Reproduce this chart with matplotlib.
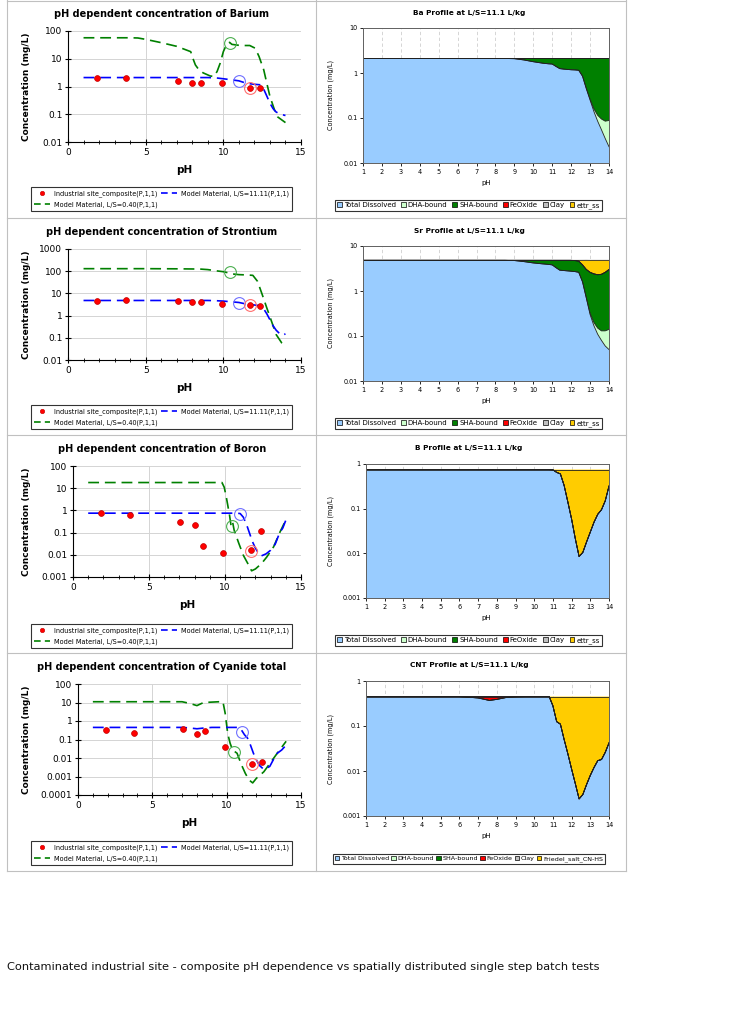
import matplotlib
matplotlib.use('Agg')
import matplotlib.pyplot as plt
from matplotlib.patches import Patch
from matplotlib.lines import Line2D
from matplotlib.ticker import FixedLocator, FuncFormatter, MultipleLocator, NullLocator

# measured single step batch tests (same pH for every element)
site_ph = [1.85, 3.75, 7.05, 8.0, 8.55, 9.9, 11.7, 12.35]
ba_site = [2.0, 2.1, 1.6, 1.35, 1.3, 1.3, 0.9, 0.85]
sr_site = [4.7, 5.0, 4.5, 3.9, 3.9, 3.4, 2.9, 2.8]
b_site = [0.75, 0.6, 0.31, 0.21, 0.025, 0.0125, 0.016, 0.12]
cn_site = [0.34, 0.23, 0.39, 0.2, 0.30, 0.04, 0.005, 0.006]

# model curves, L/S=11.11
ba_hi_ph = [1, 3, 5, 7, 9, 9.5, 10, 10.5, 11, 11.5, 12, 12.4, 12.6, 12.8, 13.0, 13.2, 13.4, 13.7, 14]
ba_hi = [2.1, 2.1, 2.1, 2.1, 2.1, 2.05, 1.9, 1.75, 1.6, 1.3, 1.2, 1.15, 0.8, 0.45, 0.25, 0.16, 0.12, 0.1, 0.09]
sr_hi_ph = [1, 3, 5, 7, 9, 9.5, 10, 10.5, 11, 11.5, 12, 12.4, 12.6, 12.8, 13.0, 13.2, 13.4, 13.6, 13.8, 14]
sr_hi = [4.8, 4.8, 4.8, 4.8, 4.8, 4.7, 4.5, 4.2, 3.9, 3.3, 3.0, 2.8, 2.0, 1.2, 0.65, 0.35, 0.22, 0.16, 0.13, 0.15]
b_hi_ph = [1, 3, 5, 7, 9, 10, 10.8, 11.0, 11.2, 11.4, 11.6, 11.8, 12.0, 12.2, 12.4, 12.7, 13.0, 13.3, 13.6, 13.8, 14]
b_hi = [0.75, 0.75, 0.75, 0.75, 0.75, 0.75, 0.75, 0.72, 0.5, 0.25, 0.1, 0.04, 0.02, 0.012, 0.009, 0.011, 0.016, 0.03, 0.1, 0.16, 0.36]
cn_hi_ph = [1, 3, 5, 7, 7.5, 8, 8.5, 9, 10, 10.8, 11.0, 11.2, 11.4, 11.6, 11.8, 12.0, 12.2, 12.5, 12.9, 13.2, 13.4, 13.7, 14]
cn_hi = [0.45, 0.45, 0.45, 0.45, 0.42, 0.38, 0.42, 0.45, 0.45, 0.45, 0.32, 0.18, 0.12, 0.05, 0.018, 0.008, 0.004, 0.0024, 0.0035, 0.01, 0.018, 0.027, 0.05]

# model curves, L/S=0.40
ba_lo_ph = [1, 2, 3, 4, 4.5, 5, 6, 7, 7.9, 8.05, 8.2, 8.4, 8.7, 9.15, 9.4, 9.6, 9.8, 10.0, 10.2, 10.4, 10.55, 11.1, 11.7, 12.05, 12.3, 12.6, 12.8, 13.0, 13.3, 13.5, 14]
ba_lo = [57, 57, 57, 57, 56, 50, 38, 28, 18, 10, 6, 4.2, 3.1, 2.4, 2.3, 3.5, 7, 18, 32, 39, 33, 30, 30, 24, 12, 4, 1.3, 0.44, 0.14, 0.08, 0.05]
sr_lo_ph = [1, 3, 5, 7, 8.5, 9.0, 9.5, 10.0, 10.3, 10.6, 11.0, 11.5, 11.9, 12.2, 12.5, 12.8, 13.1, 13.4, 13.75, 14]
sr_lo = [130, 130, 130, 128, 125, 118, 105, 95, 85, 75, 70, 68, 65, 35, 9, 2.2, 0.56, 0.14, 0.06, 0.047]
b_lo_ph = [1, 3, 5, 7, 9, 9.8, 9.95, 10.1, 10.3, 10.4, 10.5, 10.6, 10.9, 11.2, 11.55, 11.75, 12.0, 12.4, 12.75, 13.2, 13.6, 14]
b_lo = [18, 18, 18, 18, 18, 18, 11, 3.5, 0.6, 0.2, 0.3, 0.13, 0.034, 0.0097, 0.0035, 0.0019, 0.0023, 0.004, 0.008, 0.023, 0.1, 0.37]
cn_lo_ph = [1, 3, 5, 7, 7.5, 8, 8.45, 9, 9.5, 9.75, 9.9, 10.07, 10.23, 10.4, 10.7, 11.0, 11.25, 11.5, 11.75, 12.0, 12.5, 12.9, 13.4, 14]
cn_lo = [11, 11, 11, 11, 9, 6.8, 10, 10.5, 11, 11, 2.6, 0.21, 0.063, 0.027, 0.018, 0.0042, 0.0015, 0.00065, 0.00045, 0.0008, 0.0018, 0.005, 0.018, 0.08]

# highlighted points (green, blue, red)
ba_marks = [(10.4, 38), (11.0, 1.6), (11.7, 0.9)]
sr_marks = [(10.4, 90), (11.0, 3.8), (11.7, 2.9)]
b_marks = [(10.45, 0.2), (11.0, 0.7), (11.7, 0.015)]
cn_marks = [(10.5, 0.02), (11.0, 0.25), (11.7, 0.005)]

# speciation profiles at L/S=11.1 L/kg
prof_ph = [1, 2, 3, 4, 5, 6, 7, 7.6, 8, 8.5, 9, 9.5, 10, 10.5, 10.8, 11, 11.2, 11.4, 11.6, 11.8,
           12, 12.2, 12.4, 12.6, 12.8, 13, 13.2, 13.4, 13.6, 13.8, 14]
zero = [0] * 31

ba_diss = [2.1, 2.1, 2.1, 2.1, 2.1, 2.1, 2.1, 2.1, 2.1, 2.1, 2.08, 1.95, 1.78, 1.65, 1.6, 1.58, 1.4, 1.25, 1.22, 1.2,
           1.18, 1.17, 1.15, 0.85, 0.45, 0.25, 0.14, 0.085, 0.055, 0.035, 0.023]
ba_dha = [0] * 23 + [0.002, 0.005, 0.01, 0.02, 0.03, 0.04, 0.05, 0.065]
ba_sha = [0] * 10 + [0.02, 0.15, 0.32, 0.45, 0.5, 0.52, 0.7, 0.85, 0.88, 0.9,
                     0.92, 0.93, 0.95, 1.25, 1.65, 1.84, 1.94, 1.98, 2.0, 2.01, 2.01]

sr_diss = [4.8] * 10 + [4.75, 4.5, 4.2, 4.0, 3.9, 3.8, 3.3, 2.9, 2.85, 2.8,
                        2.75, 2.7, 2.6, 1.6, 0.7, 0.3, 0.17, 0.11, 0.08, 0.06, 0.05]
sr_dha = [0] * 23 + [0.005, 0.01, 0.02, 0.03, 0.04, 0.05, 0.07, 0.09]
sr_sha = [0] * 10 + [0.05, 0.3, 0.6, 0.8, 0.9, 1.0, 1.5, 1.9, 1.95, 2.0,
                     2.05, 2.05, 2.0, 2.2, 2.3, 2.28, 2.2, 2.15, 2.22, 2.47, 2.86]
sr_ettr = [0] * 21 + [0.05, 0.2, 1.0, 1.8, 2.2, 2.4, 2.5, 2.45, 2.2, 1.8]

b_diss = [0.75] * 15 + [0.74, 0.65, 0.6, 0.33, 0.14, 0.058, 0.021, 0.0085, 0.0105, 0.018, 0.03, 0.05, 0.075, 0.095, 0.15, 0.32]
b_ettr = [0] * 15 + [0.01, 0.1, 0.15, 0.42, 0.61, 0.692, 0.729, 0.7415, 0.7395, 0.732, 0.72, 0.70, 0.675, 0.655, 0.60, 0.43]

cn_diss = [0.45, 0.45, 0.45, 0.45, 0.45, 0.45, 0.42, 0.37, 0.39, 0.43, 0.445, 0.45, 0.45, 0.45, 0.45, 0.28, 0.125, 0.11, 0.05, 0.024,
           0.011, 0.0052, 0.0024, 0.003, 0.005, 0.008, 0.012, 0.017, 0.018, 0.026, 0.042]
cn_feox = [0, 0, 0, 0, 0, 0, 0.03, 0.08, 0.06, 0.02, 0.005] + [0] * 20
cn_fried = [0] * 15 + [0.17, 0.325, 0.34, 0.4, 0.426, 0.439, 0.4448, 0.4476, 0.447, 0.445, 0.442, 0.438, 0.433, 0.432, 0.424, 0.408]

layer_names = ['Total Dissolved', 'DHA-bound', 'SHA-bound', 'FeOxide', 'Clay', 'ettr_ss']
layer_colors = ['#99CCFF', '#CCFFCC', '#008000', '#FF0000', '#C0C0C0', '#FFCC00']

W, H = 736, 1024
fig = plt.figure(figsize=(W / 100, H / 100), dpi=100)

bg = fig.add_axes([0, 0, 1, 1])
bg.set_xlim(0, W)
bg.set_ylim(H, 0)
bg.axis('off')


def box(x0, y0, x1, y1):
    return [x0 / W, 1 - y1 / H, (x1 - x0) / W, (y1 - y0) / H]


def fbox(x0, y0, x1, y1):
    return (x0 / W, 1 - y1 / H, (x1 - x0) / W, (y1 - y0) / H)


fmt = FuncFormatter(lambda v, p: '%g' % v)

# cell borders
for x in [7, 316, 626]:
    bg.plot([x, x], [0, 871], color='#C0C0C0', lw=0.8)
for y in [1, 218, 435, 653, 871]:
    bg.plot([7, 626], [y, y], color='#C0C0C0', lw=0.8)


def left_panel(px, title, ty, ylo, yhi, site, hph, hv, lph, lv, marks, leg):
    ax = fig.add_axes(box(*px))
    ax.set_yscale('log')
    ax.set_xlim(0, 15)
    ax.set_ylim(ylo, yhi)
    ax.set_axisbelow(True)
    ax.grid(True, which='major', color='#D4D4D4', lw=0.7)
    ax.plot(lph, lv, color='#008000', lw=1.2, dashes=[6.5, 3.5])
    ax.plot(hph, hv, color='#0000FF', lw=1.2, dashes=[6.5, 3.5])
    ax.plot(site_ph, site, 'o', ms=4.2, mfc='#FF0000', mec='#C00000', mew=0.5)
    for (mx, my), c in zip(marks, ['#4CAF50', '#7070FF', '#FF7070']):
        ax.plot([mx], [my], 'o', ms=8.5, mfc='none', mec=c, mew=0.8)
    decades = []
    v = ylo
    while v <= yhi * 1.001:
        decades.append(v)
        v = v * 10
    ax.yaxis.set_major_locator(FixedLocator(decades))
    ax.yaxis.set_minor_locator(NullLocator())
    ax.yaxis.set_major_formatter(fmt)
    ax.xaxis.set_major_locator(FixedLocator([0, 5, 10, 15]))
    ax.xaxis.set_minor_locator(MultipleLocator(1))
    ax.tick_params(which='major', direction='inout', length=4, width=0.8, labelsize=6.5, pad=2)
    ax.tick_params(which='minor', direction='inout', length=3, width=0.6)
    for s in ['top', 'right']:
        ax.spines[s].set_visible(False)
    for s in ['left', 'bottom']:
        ax.spines[s].set_linewidth(0.8)
    cx = (px[0] + px[2]) / 2
    bg.text(162, ty, title, ha='center', va='center', fontsize=7, fontweight='bold')
    bg.text(cx, px[3] + 28, 'pH', ha='center', va='center', fontsize=7.5, fontweight='bold')
    bg.text(27, (px[1] + px[3]) / 2, 'Concentration (mg/L)', rotation=90, ha='center', va='center',
            fontsize=6.5, fontweight='bold')
    hnd = [Line2D([], [], marker='o', ls='none', ms=3.2, mfc='#FF0000', mec='#C00000', mew=0.4),
           Line2D([], [], color='#008000', lw=1.2, dashes=[4, 2.5]),
           Line2D([], [], color='#0000FF', lw=1.2, dashes=[4, 2.5])]
    lab = ['Industrial site_composite(P,1,1)', 'Model Material, L/S=0.40(P,1,1)', 'Model Material, L/S=11.11(P,1,1)']
    lg = ax.legend(hnd, lab, ncol=2, loc='center', bbox_to_anchor=fbox(*leg), bbox_transform=fig.transFigure,
                   mode='expand', fontsize=4.7, handlelength=2.4, handletextpad=0.6, labelspacing=0.7,
                   borderpad=0.45, fancybox=False, columnspacing=0.5)
    lg.get_frame().set_edgecolor('black')
    lg.get_frame().set_linewidth(0.8)


def right_panel(px, title, ty, ylo, yhi, layers, names, leg, legsize=5.0, legspace=0.7):
    ax = fig.add_axes(box(*px))
    ax.set_yscale('log')
    ax.set_xlim(1, 14)
    ax.set_ylim(ylo, yhi)
    ax.set_axisbelow(True)
    ax.grid(True, axis='x', color='#CFCFCF', lw=0.6, ls=(0, (4, 3)))
    low = [ylo] * len(prof_ph)
    cum = [0] * len(prof_ph)
    for vals, c in zip(layers, layer_colors):
        top = [a + b for a, b in zip(cum, vals)]
        ax.fill_between(prof_ph, low, top, facecolor=c, edgecolor='none', lw=0)
        ax.plot(prof_ph, top, color='#202020', lw=0.6)
        low = top
        cum = top
    ax.yaxis.set_major_locator(FixedLocator([ylo * 10 ** k for k in range(6) if ylo * 10 ** k <= yhi * 1.001]))
    ax.yaxis.set_minor_locator(NullLocator())
    ax.yaxis.set_major_formatter(fmt)
    ax.xaxis.set_major_locator(FixedLocator(list(range(1, 15))))
    ax.tick_params(direction='out', length=2.5, width=0.6, labelsize=4.7, pad=1.5)
    for s in ax.spines.values():
        s.set_linewidth(0.7)
        s.set_color('#606060')
    bg.text(469, ty, title, ha='center', va='center', fontsize=5.3, fontweight='bold')
    bg.text(486, px[3] + 20, 'pH', ha='center', va='center', fontsize=5)
    bg.text(331, (px[1] + px[3]) / 2, 'Concentration (mg/L)', rotation=90, ha='center', va='center', fontsize=4.7)
    hnd = [Patch(facecolor=c, edgecolor='black', lw=0.5) for c in layer_colors]
    lg = ax.legend(hnd, names, ncol=6, loc='center', bbox_to_anchor=fbox(*leg), bbox_transform=fig.transFigure,
                   fontsize=legsize, handlelength=0.7, handleheight=0.7, handletextpad=0.3, columnspacing=legspace,
                   borderpad=0.3, fancybox=False)
    lg.get_frame().set_edgecolor('black')
    lg.get_frame().set_linewidth(0.8)


left_panel((68, 31, 301, 142), 'pH dependent concentration of Barium', 14, 0.01, 100,
           ba_site, ba_hi_ph, ba_hi, ba_lo_ph, ba_lo, ba_marks, (28, 186, 295, 212))
left_panel((68, 249, 301, 360), 'pH dependent concentration of Strontium', 232, 0.01, 1000,
           sr_site, sr_hi_ph, sr_hi, sr_lo_ph, sr_lo, sr_marks, (28, 404, 295, 430))
left_panel((73, 466, 301, 577), 'pH dependent concentration of Boron', 449, 0.001, 100,
           b_site, b_hi_ph, b_hi, b_lo_ph, b_lo, b_marks, (28, 623, 295, 649))
left_panel((78, 684, 301, 795), 'pH dependent concentration of Cyanide total', 667, 0.0001, 100,
           cn_site, cn_hi_ph, cn_hi, cn_lo_ph, cn_lo, cn_marks, (28, 839, 295, 867))

right_panel((363, 28, 609, 163), 'Ba Profile at L/S=11.1 L/kg', 13, 0.01, 10,
            [ba_diss, ba_dha, ba_sha, zero, zero, zero], layer_names, (333, 199, 604, 212))
right_panel((363, 246, 609, 381), 'Sr Profile at L/S=11.1 L/kg', 231, 0.01, 10,
            [sr_diss, sr_dha, sr_sha, zero, zero, sr_ettr], layer_names, (333, 417, 604, 430))
right_panel((366, 464, 609, 598), 'B Profile at L/S=11.1 L/kg', 448, 0.001, 1,
            [b_diss, zero, zero, zero, zero, b_ettr], layer_names, (333, 634, 604, 647))
right_panel((366, 681, 609, 816), 'CNT Profile at L/S=11.1 L/kg', 665, 0.001, 1,
            [cn_diss, zero, zero, cn_feox, zero, cn_fried],
            layer_names[:5] + ['Friedel_salt_CN-HS'], (329, 852, 609, 866), legsize=4.6, legspace=0.3)

bg.text(7, 967, 'Contaminated industrial site - composite pH dependence vs spatially distributed single step batch tests',
        ha='left', va='center', fontsize=8.2, color='#111111')

fig.savefig('out.png', dpi=100)
